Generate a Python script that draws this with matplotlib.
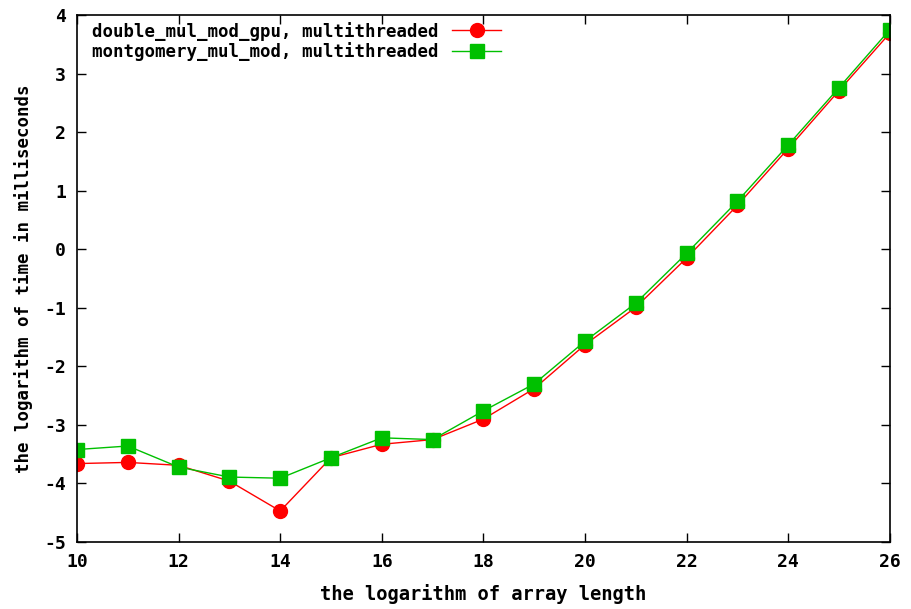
import matplotlib.pyplot as plt

# -----------------------------
# Data (log2 array length vs log time)
# -----------------------------
log_len = [10, 11, 12, 13, 14, 15, 16, 17, 18, 19, 20, 21, 22, 23, 24, 25, 26]
double_gpu = [-3.66, -3.64, -3.69, -3.96, -4.47, -3.56, -3.33, -3.25, -2.90,
              -2.38, -1.63, -0.99, -0.15, 0.75, 1.72, 2.71, 3.69]
montgomery = [-3.42, -3.36, -3.72, -3.89, -3.91, -3.56, -3.22, -3.25, -2.76,
              -2.30, -1.57, -0.92, -0.07, 0.82, 1.78, 2.76, 3.75]

x_ticks = [10, 12, 14, 16, 18, 20, 22, 24, 26]
y_ticks = [-5, -4, -3, -2, -1, 0, 1, 2, 3, 4]

plt.rcParams['font.family'] = 'DejaVu Sans Mono'
plt.rcParams['font.weight'] = 'bold'
plt.rcParams['axes.unicode_minus'] = False

fig = plt.figure(figsize=(9.12, 6.09), dpi=100)
ax = fig.add_axes([0.0845, 0.110, 0.891, 0.865])

ax.plot(log_len, double_gpu, color='#ff0000', lw=1, marker='o', ms=10,
        label='double_mul_mod_gpu, multithreaded')
ax.plot(log_len, montgomery, color='#00c000', lw=1, marker='s', ms=10,
        label='montgomery_mul_mod, multithreaded')

ax.set_xlim(10, 26)
ax.set_ylim(-5, 4)
ax.set_xticks(x_ticks)
ax.set_yticks(y_ticks)
ax.tick_params(direction='in', top=True, right=True, length=6.5, width=1,
               labelsize=13, pad=8)
for lbl in ax.get_xticklabels() + ax.get_yticklabels():
    lbl.set_fontweight('bold')
for s in ax.spines.values():
    s.set_linewidth(1.2)

ax.set_xlabel("the logarithm of array length", fontsize=13.5, fontweight='bold',
              labelpad=9)
ax.set_ylabel("the logarithm of time in milliseconds", fontsize=12.5,
              fontweight='bold', labelpad=8)

leg = ax.legend(loc='upper left', frameon=False, markerfirst=False,
                fontsize=12.5, handlelength=2.85, handletextpad=0.75,
                borderaxespad=0.3, labelspacing=0.1,
                bbox_to_anchor=(0.004, 1.011))
for t in leg.get_texts():
    t.set_fontweight('bold')

plt.savefig("out.png", dpi=100)
plt.close()
